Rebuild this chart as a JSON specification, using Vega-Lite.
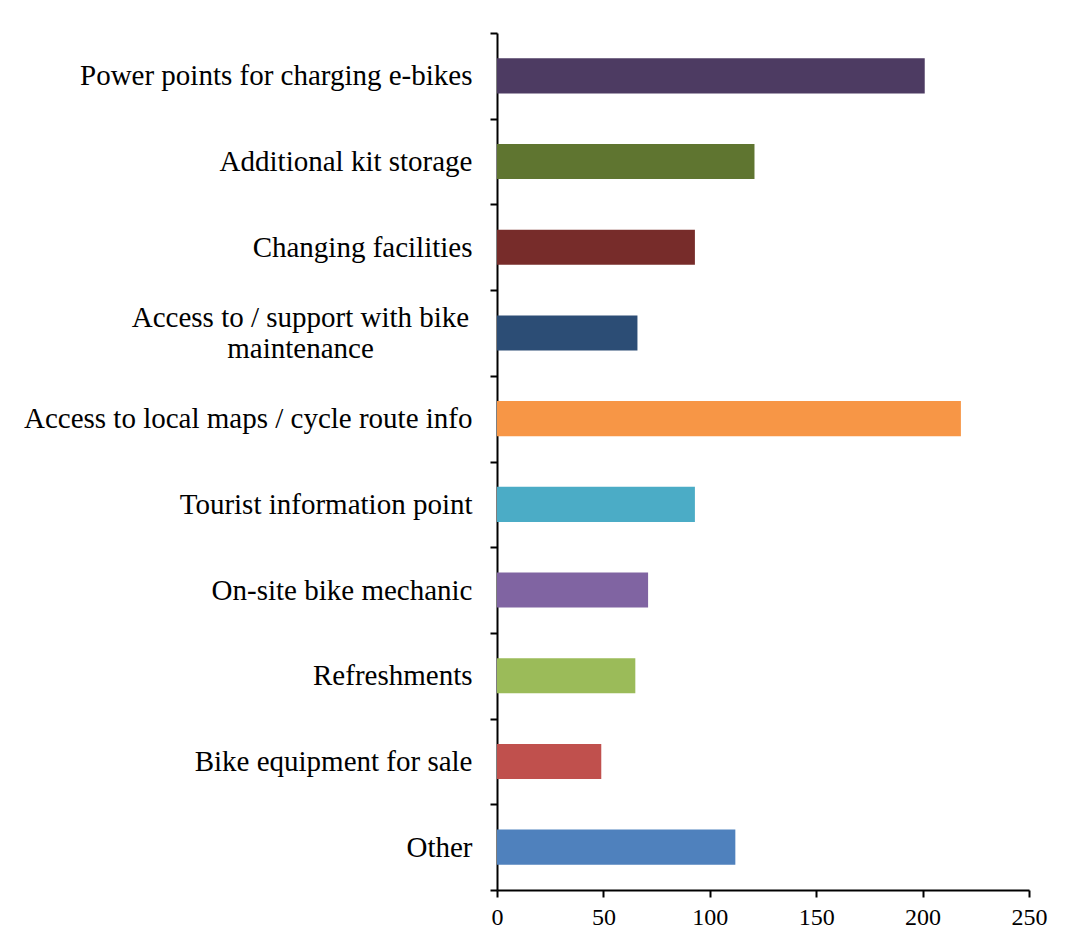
{
  "$schema": "https://vega.github.io/schema/vega-lite/v6.json",
  "width": 532,
  "height": 857,
  "autosize": {"type": "none"},
  "padding": {"left": 497, "top": 33, "right": 39, "bottom": 53},
  "background": "white",
  "data": {
    "values": [
      {"item": "Power points for charging e-bikes", "count": 201},
      {"item": "Additional kit storage", "count": 121},
      {"item": "Changing facilities", "count": 93},
      {"item": "Access to / support with bike maintenance", "count": 66},
      {"item": "Access to local maps / cycle route info", "count": 218},
      {"item": "Tourist information point", "count": 93},
      {"item": "On-site bike mechanic", "count": 71},
      {"item": "Refreshments", "count": 65},
      {"item": "Bike equipment for sale", "count": 49},
      {"item": "Other", "count": 112}
    ]
  },
  "mark": {"type": "bar", "height": {"band": 0.41}},
  "encoding": {
    "y": {
      "field": "item",
      "type": "nominal",
      "sort": null,
      "scale": {"paddingInner": 0, "paddingOuter": 0},
      "axis": {
        "title": null,
        "domainColor": "black",
        "domainWidth": 2,
        "tickColor": "black",
        "tickWidth": 2,
        "tickSize": 7,
        "tickBand": "extent",
        "labelFont": "Liberation Serif",
        "labelFontSize": 29,
        "labelColor": "black",
        "labelLimit": 700,
        "labelLineHeight": 31,
        "labelExpr": "datum.value == 'Access to / support with bike maintenance' ? ['Access to / support with bike', 'maintenance'] : datum.value",
        "labelAlign": {"condition": {"test": "datum.value == 'Access to / support with bike maintenance'", "value": "center"}, "value": "right"},
        "labelPadding": {"condition": {"test": "datum.value == 'Access to / support with bike maintenance'", "value": 190}, "value": 18},
        "labelOffset": {"condition": {"test": "datum.value == 'Access to / support with bike maintenance'", "value": -15}, "value": 0}
      }
    },
    "x": {
      "field": "count",
      "type": "quantitative",
      "scale": {"domain": [0, 250], "nice": false},
      "axis": {
        "title": null,
        "grid": false,
        "values": [0, 50, 100, 150, 200, 250],
        "domainColor": "black",
        "domainWidth": 2,
        "tickColor": "black",
        "tickWidth": 2,
        "tickSize": 7,
        "labelFont": "Liberation Serif",
        "labelFontSize": 24,
        "labelColor": "black",
        "labelPadding": 8,
        "labelFlush": false
      }
    },
    "color": {
      "field": "item",
      "type": "nominal",
      "sort": null,
      "legend": null,
      "scale": {
        "domain": [
          "Power points for charging e-bikes",
          "Additional kit storage",
          "Changing facilities",
          "Access to / support with bike maintenance",
          "Access to local maps / cycle route info",
          "Tourist information point",
          "On-site bike mechanic",
          "Refreshments",
          "Bike equipment for sale",
          "Other"
        ],
        "range": ["#4D3B62", "#5F7530", "#772C2A", "#2C4D75", "#F79646", "#4BACC6", "#8064A2", "#9BBB59", "#C0504D", "#4F81BD"]
      }
    }
  },
  "config": {"view": {"stroke": null}}
}
